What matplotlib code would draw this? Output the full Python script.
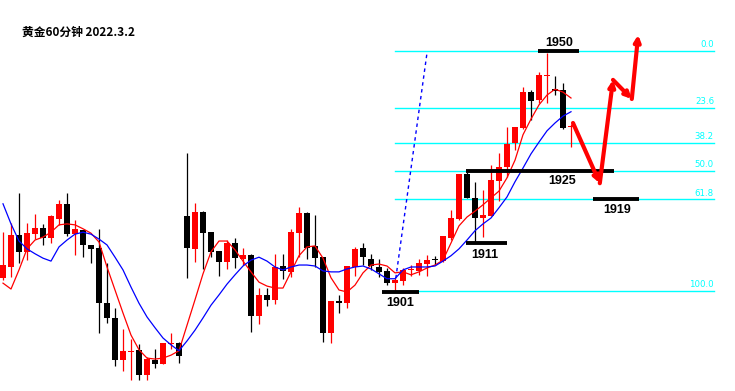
import matplotlib
matplotlib.use("Agg")
import matplotlib.pyplot as plt

# ---------------- data ----------------
title = "黄金60分钟 2022.3.2"

opens = [1903.7, 1905.9, 1912.4, 1909.0, 1912.6, 1913.9, 1911.8, 1915.7, 1918.8, 1912.6,
         1913.5, 1910.4, 1909.8, 1898.5, 1895.5, 1886.9, 1888.5, 1889.0, 1883.9, 1886.9,
         1886.1, 1890.2, 1890.4, 1916.3, 1909.6, 1917.1, 1913.0, 1909.2, 1906.9, 1910.8,
         1907.5, 1908.4, 1895.9, 1900.2, 1899.2, 1906.1, 1904.9, 1912.8, 1916.9, 1910.2,
         1907.9, 1892.4, 1899.0, 1898.5, 1905.9, 1909.8, 1907.5, 1905.9, 1905.1, 1902.6,
         1903.0, 1905.3, 1905.1, 1906.5, 1907.5, 1907.1, 1911.8, 1915.7, 1924.9, 1920.0,
         1915.9, 1916.3, 1923.5, 1926.3, 1931.2, 1934.3, 1941.6, 1940.0, 1944.9, 1942.2,
         1942.0, 1934.5]
highs = [1913.0, 1914.9, 1921.0, 1914.9, 1916.7, 1914.7, 1916.5, 1919.6, 1921.0, 1915.5,
         1913.5, 1910.4, 1913.7, 1906.7, 1897.5, 1893.2, 1891.2, 1890.2, 1887.5, 1889.2,
         1890.4, 1892.4, 1890.6, 1929.2, 1919.0, 1917.3, 1913.0, 1909.2, 1911.4, 1911.8,
         1909.8, 1908.6, 1901.6, 1901.6, 1908.6, 1908.6, 1913.7, 1918.2, 1917.1, 1916.5,
         1907.9, 1899.0, 1900.2, 1906.1, 1910.0, 1910.8, 1908.6, 1907.5, 1905.7, 1903.7,
         1905.7, 1906.3, 1907.5, 1908.4, 1908.1, 1912.2, 1917.5, 1924.9, 1925.3, 1923.3,
         1921.6, 1926.7, 1929.2, 1934.5, 1934.5, 1942.7, 1942.0, 1945.7, 1949.6, 1944.9,
         1943.5, 1935.1]
lows = [1903.2, 1903.9, 1906.7, 1907.3, 1911.6, 1910.4, 1910.8, 1914.5, 1912.2, 1908.4,
        1907.9, 1906.7, 1892.4, 1894.5, 1885.7, 1884.7, 1882.8, 1882.8, 1882.8, 1885.3,
        1886.1, 1889.2, 1886.3, 1903.7, 1906.9, 1905.5, 1907.9, 1904.1, 1905.5, 1905.7,
        1906.3, 1892.6, 1894.3, 1897.9, 1898.3, 1903.5, 1903.9, 1907.9, 1907.5, 1905.9,
        1890.6, 1890.4, 1896.5, 1897.5, 1904.1, 1906.3, 1905.3, 1903.9, 1902.2, 1901.0,
        1902.2, 1904.1, 1904.3, 1904.1, 1906.3, 1906.9, 1911.4, 1915.5, 1920.0, 1910.8,
        1912.0, 1916.3, 1919.4, 1924.3, 1929.8, 1934.1, 1935.9, 1939.4, 1939.4, 1941.0,
        1934.1, 1930.4]
closes = [1906.3, 1912.4, 1909.0, 1912.8, 1913.9, 1911.8, 1916.3, 1918.8, 1912.6, 1913.7,
          1910.4, 1909.6, 1898.5, 1895.5, 1886.9, 1888.8, 1888.8, 1883.9, 1887.1, 1886.1,
          1890.4, 1890.4, 1887.7, 1909.8, 1917.1, 1912.8, 1909.0, 1906.9, 1910.8, 1907.7,
          1908.4, 1895.9, 1900.2, 1899.2, 1905.9, 1905.1, 1913.0, 1916.9, 1909.8, 1907.7,
          1892.4, 1899.0, 1898.5, 1906.1, 1909.6, 1907.9, 1906.1, 1904.9, 1902.6, 1903.2,
          1905.3, 1905.5, 1906.7, 1907.3, 1907.3, 1912.2, 1915.9, 1924.9, 1920.0, 1915.9,
          1916.5, 1923.7, 1926.3, 1931.0, 1934.5, 1941.6, 1939.8, 1945.1, 1945.1, 1941.8,
          1934.3, 1934.7]

ma_fast = [1902.6, 1901.4, 1905.3, 1909.6, 1911.4, 1912.0, 1913.0, 1914.5, 1914.7, 1914.5,
           1913.7, 1912.8, 1911.0, 1905.9, 1901.2, 1896.5, 1892.0, 1889.0, 1887.3, 1887.1,
           1887.3, 1887.9, 1888.8, 1894.0, 1899.2, 1904.5, 1909.0, 1911.2, 1911.2, 1909.4,
           1907.1, 1904.9, 1902.8, 1902.0, 1901.6, 1901.6, 1904.9, 1908.2, 1910.0, 1910.2,
           1907.7, 1903.7, 1901.2, 1900.8, 1902.2, 1904.7, 1906.3, 1906.5, 1906.1, 1904.7,
           1904.9, 1904.3, 1904.9, 1905.7, 1906.3, 1907.3, 1910.8, 1914.3, 1916.1, 1917.3,
           1918.6, 1920.0, 1921.4, 1924.1, 1927.7, 1932.9, 1936.1, 1939.0, 1941.0, 1942.2,
           1941.6, 1940.4]
ma_slow = [1918.8, 1914.7, 1911.2, 1909.6, 1908.6, 1907.7, 1907.1, 1910.0, 1911.4, 1912.6,
           1913.0, 1912.6, 1911.6, 1910.4, 1907.9, 1905.3, 1901.8, 1898.5, 1895.7, 1893.5,
           1891.4, 1890.0, 1888.8, 1890.8, 1893.0, 1895.5, 1898.1, 1900.2, 1902.4, 1904.3,
           1906.1, 1907.3, 1907.9, 1907.1, 1905.9, 1905.3, 1905.9, 1906.3, 1906.3, 1906.1,
           1905.1, 1904.9, 1904.9, 1905.5, 1905.9, 1906.1, 1905.5, 1904.5, 1903.5, 1903.5,
           1905.3, 1905.9, 1905.9, 1905.9, 1906.1, 1907.1, 1908.2, 1909.6, 1911.4, 1913.3,
           1914.7, 1915.9, 1918.0, 1920.2, 1923.3, 1926.1, 1929.0, 1931.4, 1933.7, 1935.3,
           1936.7, 1937.6]

fib_high = 1950.0
fib_low = 1901.0
fib_ratios = [0.0, 23.6, 38.2, 50.0, 61.8, 100.0]
fib_labels = ["0.0", "23.6", "38.2", "50.0", "61.8", "100.0"]

level_labels = ["1950", "1925", "1919", "1911", "1901"]
level_prices = [1950.0, 1925.5, 1919.7, 1910.8, 1900.8]

trend_x = [49.1, 53.0]
trend_y = [1903.6, 1949.6]

path_x = [71.25, 74.6, 76.25, 78.6, 79.4]
path_y = [1935.3, 1923.0, 1944.1, 1940.2, 1953.3]

# ---------------- layout ----------------
W, H, DPI = 7.35, 3.91, 100
XLIM = (-0.375, 91.5)
YLIM = (1880.58, 1960.41)
level_spans = [(66.9, 72.0), (57.9, 76.4), (73.75, 79.5), (57.9, 63.0), (47.4, 52.0)]
level_text_pos = [(69.5, 1951.7), (69.9, 1923.4), (76.75, 1917.5), (60.25, 1908.3), (49.6, 1898.5)]
fib_span = (49.0, 88.875)

fig = plt.figure(figsize=(W, H), dpi=DPI)
ax = fig.add_axes([0, 0, 1, 1])
ax.set_xlim(*XLIM)
ax.set_ylim(*YLIM)
ax.axis("off")

cyan = "#00FFFF"

# fibonacci levels
for r, lab in zip(fib_ratios, fib_labels):
    lvl = fib_high - (fib_high - fib_low) * r / 100.0
    ax.plot(fib_span, [lvl, lvl], color=cyan, lw=1.0, zorder=1)
    ax.text(fib_span[1], lvl + 0.35, lab, color=cyan, fontsize=6.2,
            ha="right", va="bottom", family="DejaVu Sans", zorder=1)

# candles
bw = 0.7
for i, (o, h, l, c) in enumerate(zip(opens, highs, lows, closes)):
    col = "#FF0000" if c >= o else "#000000"
    ax.vlines(i, l, h, color=col, lw=0.9, zorder=3)
    bottom = min(o, c)
    height = max(abs(c - o), 0.25)
    ax.bar(i, height, bottom=bottom, width=bw, color=col, edgecolor=col, lw=0, zorder=4)

# moving averages
xs = list(range(len(ma_fast)))
ax.plot(xs, ma_fast, color="#FF0000", lw=0.9, zorder=5)
ax.plot(xs, ma_slow, color="#0000FF", lw=0.9, zorder=5)

# dashed trend line
ax.plot(trend_x, trend_y, color="#0000FF", lw=1.0, ls=(0, (2.5, 2.5)), zorder=5)

# level lines and labels
for (x0, x1), p, lab, (tx, ty) in zip(level_spans, level_prices, level_labels, level_text_pos):
    ax.plot([x0, x1], [p, p], color="black", lw=2.8, solid_capstyle="butt", zorder=6)
    ax.text(tx, ty, lab, fontsize=9, fontweight="bold", family="Liberation Sans",
            ha="center", va="center", color="black", zorder=7)

# projected path arrows
for k in range(len(path_x) - 1):
    ax.annotate("", xy=(path_x[k + 1], path_y[k + 1]), xytext=(path_x[k], path_y[k]),
                arrowprops=dict(arrowstyle="->", color="#FF0000", lw=3,
                                mutation_scale=9, shrinkA=0, shrinkB=0),
                zorder=8)

# title
fig.text(22 / 735, 1 - 32 / 391, title, fontsize=8.5, fontweight="bold",
         family=["Noto Sans CJK SC", "DejaVu Sans"], ha="left", va="center", color="black")

fig.savefig("out.png", dpi=DPI, facecolor="white")
